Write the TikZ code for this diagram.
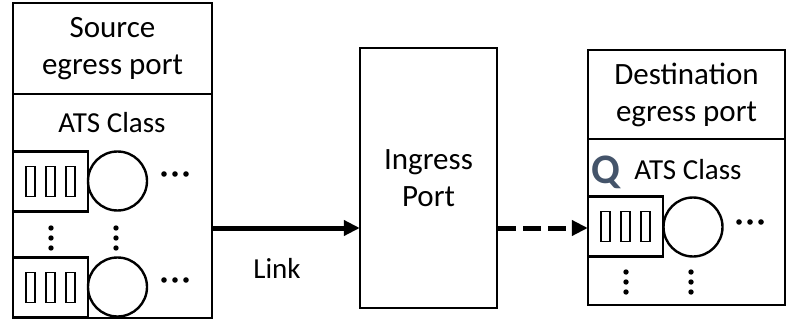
\documentclass[tikz,border=0pt]{standalone}
\usepackage{fontspec}
\setmainfont{Carlito}
\usetikzlibrary{arrows.meta}
\definecolor{qblue}{HTML}{44546A}
\tikzset{>={Triangle[length=16pt,width=15pt]}}
\tikzset{%
    part/.style={draw, line width=2.4pt, inner sep=0pt, align=center,
        font=\fontsize{31}{37}\selectfont},
    queue/.style={draw, line width=2.4pt, minimum width=75pt, minimum height=60pt, inner sep=0pt},
    server/.style={draw, circle, line width=2.4pt, minimum size=59pt, inner sep=0pt},
    lbl/.style={font=\fontsize{29}{34}\selectfont},
    link/.style={line width=5pt, ->, shorten >=-1pt}
}

\begin{document}
\begin{tikzpicture}[x=1pt,y=-1pt]
	\useasboundingbox (0,0) rectangle (794,326);
	% source egress port
	\node[part, minimum width=199pt, minimum height=91pt] (srchead) at (112.5,48.5) {Source\\egress port};
	\node[part, minimum width=199pt, minimum height=224pt] (srcbody) at (112.5,206) {};
	\node[lbl] (srcats) at (112,123) {ATS Class};
	\node[queue] (q1) at (50.5,181.5) {};
	\node[queue] (q2) at (50.5,287.5) {};
	\node[server] (s1) at (117.5,181) {};
	\node[server] (s2) at (117.5,287) {};
	% ingress port
	\node[part, minimum width=137pt, minimum height=260pt] (ingress) at (428.5,178) {Ingress\\Port};
	% destination egress port
	\node[part, minimum width=197pt, minimum height=89pt] (dsthead) at (686.5,94.5) {Destination\\egress port};
	\node[part, minimum width=197pt, minimum height=166pt] (dstbody) at (686.5,222) {};
	\node[font=\fontsize{42}{42}\selectfont\bfseries, text=qblue] (qlbl) at (605.5,172) {Q};
	\node[lbl] (dstats) at (688,170) {ATS Class};
	\node[queue] (q3) at (625.5,226.5) {};
	\node[server] (s3) at (693,227) {};
	\foreach \q in {q1,q2,q3}
		\foreach \dx in {-20,0,20}
			\draw[line width=1.8pt] ([xshift=\dx pt]\q.center) +(-4.5,-15) rectangle +(4.5,15);
	\foreach \x/\y in {164/174,164/280,739/222}
		\foreach \k in {0,1,2}
			\fill (\x+11*\k,\y) circle (2.8pt);
	\foreach \x/\y in {51/228,116/228,626/272,691/272}
		\foreach \k in {0,1,2}
			\fill (\x,\y+10*\k) circle (2.7pt);
	% links
	\coordinate (lvl) at (0,228);
	\draw[link] (srcbody.east |- lvl) -- (ingress.west |- lvl);
	\node[lbl] (linklbl) at (277,268) {Link};
	\draw[link, dash pattern=on 18pt off 7pt] (ingress.east |- lvl) -- (q3.west |- lvl);
\end{tikzpicture}
\end{document}
